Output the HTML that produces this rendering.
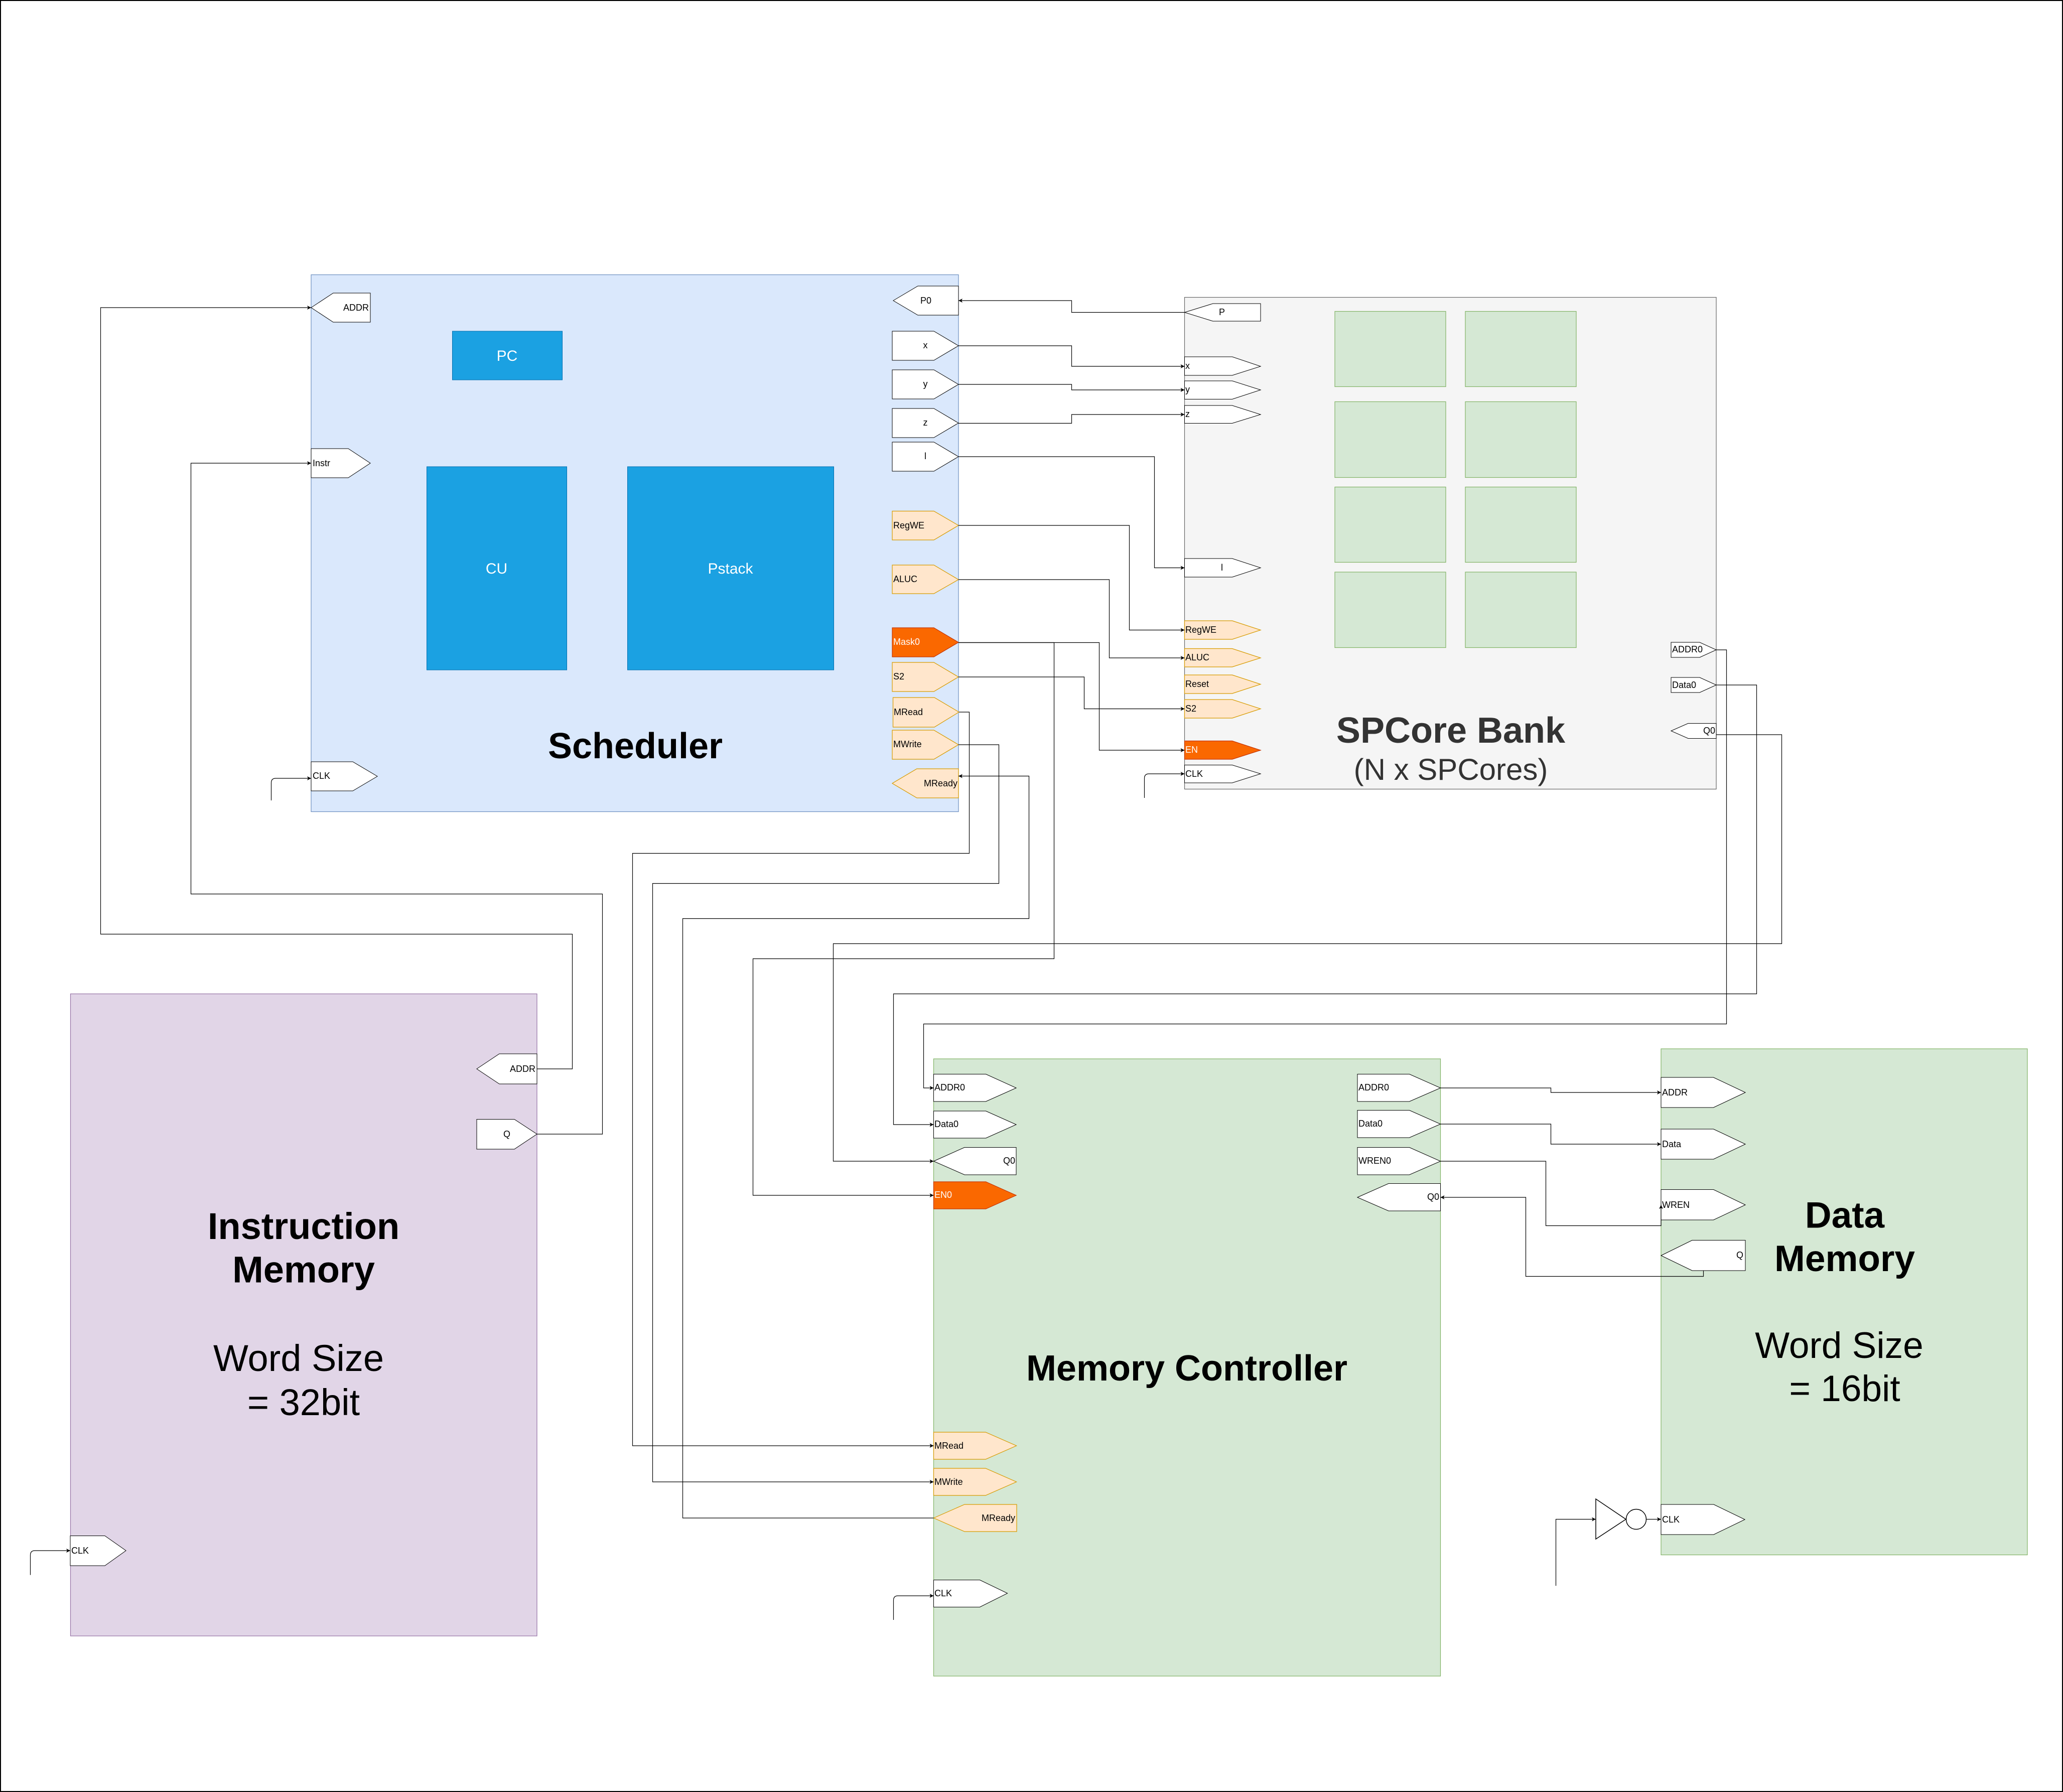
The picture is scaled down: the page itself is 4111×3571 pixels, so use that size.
<!DOCTYPE html>
<html><head><meta charset="utf-8"><title>Diagram</title>
<style>
html,body{margin:0;padding:0;background:#fff}
svg{display:block}
text{font-family:"Liberation Sans",Arial,sans-serif;fill:#000}
.p{font-size:18px}
.w{fill:#fff;stroke:#000;stroke-width:1}
.o{fill:#ffe6cc;stroke:#d79b00;stroke-width:1.2}
.f{fill:#fa6800;stroke:#c73500;stroke-width:1.2}
.c{fill:#d5e8d4;stroke:#82b366;stroke-width:1.2}
.b{fill:#1ba1e2;stroke:#006eaf;stroke-width:1}
.t{font-size:72px;font-weight:bold;text-anchor:middle}
.s{font-size:72px;text-anchor:middle}
.e{text-anchor:end}
.m{text-anchor:middle}
.l{fill:none;stroke:#000;stroke-width:1.2}
</style></head><body>
<svg xmlns="http://www.w3.org/2000/svg" width="4111" height="3571" viewBox="0 0 4111 3571">
<defs><marker id="a" markerUnits="userSpaceOnUse" markerWidth="10" markerHeight="10" refX="8" refY="5" orient="auto"><path d="M0,1 L8,5 L0,9 L2,5 Z" fill="#000"/></marker></defs>
<rect width="4111" height="3571" fill="#fff"/>
<rect x="1" y="1" width="4109" height="3569" fill="none" stroke="#000" stroke-width="2"/>

<!-- Scheduler -->
<rect x="620" y="547.5" width="1290" height="1070" fill="#dae8fc" stroke="#6c8ebf" stroke-width="1.2"/>
<rect class="b" x="901.5" y="660" width="219" height="97"/>
<rect class="b" x="850.5" y="930" width="279" height="405"/>
<rect class="b" x="1250.5" y="930" width="411" height="405"/>
<g font-size="30" text-anchor="middle"><text x="1010.5" y="719" style="fill:#fff">PC</text><text x="989.5" y="1143" style="fill:#fff">CU</text><text x="1455.5" y="1143" style="fill:#fff">Pstack</text></g>
<text class="t" x="1266" y="1511">Scheduler</text>
<polygon class="w" points="620,613 664,584 738,584 738,642 664,642"/><text class="p e" x="735" y="619">ADDR</text>
<polygon class="w" points="620,894 694,894 738,923 694,952 620,952"/><text class="p" x="623" y="929">Instr</text>
<polygon class="w" points="620,1518 703,1518 752,1547 703,1576 620,1576"/><text class="p" x="623" y="1552">CLK</text>
<polygon class="w" points="1780,599 1829,570 1910,570 1910,628 1829,628"/><text class="p m" x="1845" y="605">P0</text>
<polygon class="w" points="1778,660 1861,660 1910,689 1861,718 1778,718"/><text class="p m" x="1844" y="694">x</text>
<polygon class="w" points="1778,737 1861,737 1910,766 1861,795 1778,795"/><text class="p m" x="1844" y="771">y</text>
<polygon class="w" points="1778,814 1861,814 1910,843 1861,872 1778,872"/><text class="p m" x="1844" y="848">z</text>
<polygon class="w" points="1778,881 1861,881 1910,910 1861,939 1778,939"/><text class="p m" x="1844" y="915">l</text>
<polygon class="o" points="1778,1018.5 1861,1018.5 1910,1047 1861,1076 1778,1076"/><text class="p" x="1780" y="1053">RegWE</text>
<polygon class="o" points="1778,1126 1861,1126 1910,1155 1861,1183 1778,1183"/><text class="p" x="1780" y="1160">ALUC</text>
<polygon class="f" points="1778,1251 1861,1251 1910,1280 1861,1309 1778,1309"/><text class="p" x="1780" y="1285" style="fill:#fff">Mask0</text>
<polygon class="o" points="1778,1320 1861,1320 1910,1349 1861,1378 1778,1378"/><text class="p" x="1780" y="1354">S2</text>
<polygon class="o" points="1779.5,1390 1862,1390 1911,1419 1862,1449 1779.5,1449"/><text class="p" x="1781" y="1425">MRead</text>
<polygon class="o" points="1778,1455 1861,1455 1910,1484 1861,1513 1778,1513"/><text class="p" x="1780" y="1489">MWrite</text>
<polygon class="o" points="1778,1561 1827,1532 1910,1532 1910,1590 1827,1590"/><text class="p e" x="1908" y="1567">MReady</text>

<!-- SPCore -->
<rect x="2360.5" y="592.5" width="1059.5" height="980" fill="#f5f5f5" stroke="#666" stroke-width="1.2"/>
<rect class="c" x="2660" y="620.5" width="221" height="150"/><rect class="c" x="2920" y="620.5" width="221" height="150"/>
<rect class="c" x="2660" y="800.5" width="221" height="151"/><rect class="c" x="2920" y="800.5" width="221" height="151"/>
<rect class="c" x="2660" y="970.5" width="221" height="150"/><rect class="c" x="2920" y="970.5" width="221" height="150"/>
<rect class="c" x="2660" y="1140" width="221" height="150.5"/><rect class="c" x="2920" y="1140" width="221" height="150.5"/>
<text class="t" x="2891" y="1480" style="fill:#333">SPCore Bank</text>
<text x="2891" y="1554" font-size="60" text-anchor="middle" style="fill:#333">(N x SPCores)</text>
<polygon class="w" points="2360.5,622.5 2417,605 2512,605 2512,640 2417,640"/><text class="p m" x="2435" y="628">P</text>
<polygon class="w" points="2360.5,711 2455.5,711 2512,730 2455.5,748 2360.5,748"/><text class="p" x="2362" y="735">x</text>
<polygon class="w" points="2360.5,759 2455.5,759 2512,777 2455.5,795.5 2360.5,795.5"/><text class="p" x="2362" y="782">y</text>
<polygon class="w" points="2360.5,808 2455.5,808 2512,826 2455.5,843.5 2360.5,843.5"/><text class="p" x="2362" y="831">z</text>
<polygon class="w" points="2360.5,1113 2455.5,1113 2512,1131.5 2455.5,1150 2360.5,1150"/><text class="p m" x="2435" y="1137">l</text>
<polygon class="o" points="2360.5,1237 2455.5,1237 2512,1255.5 2455.5,1274 2360.5,1274"/><text class="p" x="2362" y="1261">RegWE</text>
<polygon class="o" points="2360.5,1292.5 2455.5,1292.5 2512,1311 2455.5,1329 2360.5,1329"/><text class="p" x="2362" y="1316">ALUC</text>
<polygon class="o" points="2360.5,1345 2455.5,1345 2512,1363.5 2455.5,1382 2360.5,1382"/><text class="p" x="2362" y="1369">Reset</text>
<polygon class="o" points="2360.5,1394 2455.5,1394 2512,1412.5 2455.5,1431 2360.5,1431"/><text class="p" x="2362" y="1418">S2</text>
<polygon class="f" points="2360.5,1476.5 2455.5,1476.5 2512,1495 2455.5,1513 2360.5,1513"/><text class="p" x="2362" y="1500" style="fill:#fff">EN</text>
<polygon class="w" points="2360.5,1524.5 2455.5,1524.5 2512,1542 2455.5,1560 2360.5,1560"/><text class="p" x="2362" y="1548">CLK</text>
<polygon class="w" points="3330,1280 3387,1280 3420,1295 3387,1310 3330,1310"/><text class="p" x="3332" y="1300">ADDR0</text>
<polygon class="w" points="3330,1350 3387,1350 3420,1365 3387,1380 3330,1380"/><text class="p" x="3332" y="1371">Data0</text>
<polygon class="w" points="3330,1456.5 3364,1441.5 3420,1441.5 3420,1471.5 3364,1471.5"/><text class="p e" x="3418" y="1462">Q0</text>

<!-- Instruction Memory -->
<rect x="140.5" y="1980.5" width="929.5" height="1279.5" fill="#e1d5e7" stroke="#9673a6" stroke-width="1.2"/>
<text class="t" x="605" y="2469" style="font-size:74px">Instruction</text>
<text class="t" x="605" y="2555.5" style="font-size:74px">Memory</text>
<text class="s" x="595" y="2732" style="font-size:74px">Word Size</text>
<text class="s" x="605" y="2820" style="font-size:74px">= 32bit</text>
<polygon class="w" points="950,2130 995,2100 1070,2100 1070,2160 995,2160"/><text class="p e" x="1067" y="2136">ADDR</text>
<polygon class="w" points="950,2230.5 1025,2230.5 1070,2260 1025,2290 950,2290"/><text class="p m" x="1010" y="2266">Q</text>
<polygon class="w" points="140,3060.5 209,3060.5 251,3090 209,3120 140,3120"/><text class="p" x="142" y="3096">CLK</text>

<!-- Memory Controller -->
<rect x="1860.5" y="2110" width="1010" height="1230" fill="#d5e8d4" stroke="#82b366" stroke-width="1.2"/>
<text class="t" x="2365" y="2751">Memory Controller</text>
<polygon class="w" points="1860.5,2140.5 1964.5,2140.5 2025,2168 1964.5,2195 1860.5,2195"/><text class="p" x="1862" y="2173">ADDR0</text>
<polygon class="w" points="1860.5,2214 1964.5,2214 2025,2241 1964.5,2268 1860.5,2268"/><text class="p" x="1862" y="2246">Data0</text>
<polygon class="w" points="1860.5,2314 1922,2286.5 2025,2286.5 2025,2341 1922,2341"/><text class="p e" x="2023" y="2319">Q0</text>
<polygon class="f" points="1860.5,2355 1964.5,2355 2025,2382 1964.5,2409 1860.5,2409"/><text class="p" x="1862" y="2387" style="fill:#fff">EN0</text>
<polygon class="o" points="1860.5,2854 1964,2854 2025.5,2881 1964,2908 1860.5,2908"/><text class="p" x="1862" y="2887">MRead</text>
<polygon class="o" points="1860.5,2926 1964,2926 2025.5,2953 1964,2980 1860.5,2980"/><text class="p" x="1862" y="2959">MWrite</text>
<polygon class="o" points="1860.5,3025 1922,2998 2026,2998 2026,3052 1922,3052"/><text class="p e" x="2023" y="3031">MReady</text>
<polygon class="w" points="1860.5,3148.5 1952.5,3148.5 2007.5,3175 1952.5,3202.5 1860.5,3202.5"/><text class="p" x="1862" y="3181">CLK</text>
<polygon class="w" points="2705,2140.5 2808.5,2140.5 2870.5,2168 2808.5,2195 2705,2195"/><text class="p" x="2707" y="2173">ADDR0</text>
<polygon class="w" points="2705,2212.5 2808.5,2212.5 2870.5,2240 2808.5,2267 2705,2267"/><text class="p" x="2707" y="2245">Data0</text>
<polygon class="w" points="2705,2286.5 2808.5,2286.5 2870.5,2314 2808.5,2341 2705,2341"/><text class="p" x="2707" y="2319">WREN0</text>
<polygon class="w" points="2705,2386 2767,2358.5 2870.5,2358.5 2870.5,2413 2767,2413"/><text class="p e" x="2868" y="2391">Q0</text>

<!-- Data Memory -->
<rect x="3310" y="2090" width="730" height="1008.5" fill="#d5e8d4" stroke="#82b366" stroke-width="1.2"/>
<text class="t" x="3676" y="2446.5" style="font-size:73px">Data</text>
<text class="t" x="3676" y="2533" style="font-size:73px">Memory</text>
<text class="s" x="3665" y="2706" style="font-size:73px">Word Size</text>
<text class="s" x="3676" y="2792" style="font-size:73px">= 16bit</text>
<polygon class="w" points="3310,2147 3414.5,2147 3478,2177 3414.5,2207 3310,2207"/><text class="p" x="3312" y="2183">ADDR</text>
<polygon class="w" points="3310,2250 3414.5,2250 3478,2280 3414.5,2310 3310,2310"/><text class="p" x="3312" y="2286">Data</text>
<polygon class="w" points="3310,2370.5 3414.5,2370.5 3478,2401 3414.5,2431 3310,2431"/><text class="p" x="3312" y="2407">WREN</text>
<polygon class="w" points="3310,2502 3372,2471.5 3478,2471.5 3478,2532 3372,2532"/><text class="p e" x="3474" y="2507">Q</text>
<polygon class="w" points="3310,2998 3415,2998 3477,3028 3415,3058 3310,3058"/><text class="p" x="3312" y="3034">CLK</text>
<polygon points="3180,2987 3180,3067 3240,3027.5" fill="#fff" stroke="#000" stroke-width="1.5"/>
<circle cx="3260.5" cy="3027.5" r="20" fill="#fff" stroke="#000" stroke-width="1.5"/>

<!-- wires -->
<g class="l">
<path class="l" marker-end="url(#a)" d="M2360.5,622.5H2135.5V599H1910"/>
<path class="l" marker-end="url(#a)" d="M1910,689H2135.5V730H2360.5"/>
<path class="l" marker-end="url(#a)" d="M1910,766H2135.5V777H2360.5"/>
<path class="l" marker-end="url(#a)" d="M1910,843.5H2135.5V826H2360.5"/>
<path class="l" marker-end="url(#a)" d="M1910,910H2300.5V1131.5H2360.5"/>
<path class="l" marker-end="url(#a)" d="M1910,1047H2250.5V1255.5H2360.5"/>
<path class="l" marker-end="url(#a)" d="M1910,1155H2210.5V1311H2360.5"/>
<path class="l" marker-end="url(#a)" d="M1910,1280.5H2190.5V1495H2360.5"/>
<path class="l" marker-end="url(#a)" d="M1910,1349H2160.5V1412.5H2360.5"/>
<path class="l" marker-end="url(#a)" d="M1910,1280.5H2100.5V1910.5H1500.5V2382H1860.5"/>
<path class="l" marker-end="url(#a)" d="M1911,1419H1931.5V1700.5H1260.5V2881H1860.5"/>
<path class="l" marker-end="url(#a)" d="M1910,1484H1990.5V1760.5H1300.5V2953H1860.5"/>
<path class="l" marker-end="url(#a)" d="M1860.5,3025H1360.5V1830.5H2050.5V1546.5H1910"/>
<path class="l" marker-end="url(#a)" d="M3420,1295H3440.5V2040.5H1840.5V2168H1860.5"/>
<path class="l" marker-end="url(#a)" d="M3420,1365H3500.5V1980.5H1780.5V2241H1860.5"/>
<path class="l" marker-end="url(#a)" d="M3420,1464H3550.5V1880.5H1660.5V2314H1860.5"/>
<path class="l" marker-end="url(#a)" d="M1070,2130H1140.5V1861.5H200.5V613H620"/>
<path class="l" marker-end="url(#a)" d="M1070,2260H1200.5V1781.5H380.5V923H620"/>
<path class="l" marker-end="url(#a)" d="M2870.5,2168H3090.5V2177H3310"/>
<path class="l" marker-end="url(#a)" d="M2870.5,2240H3090.5V2280H3310"/>
<path class="l" marker-end="url(#a)" d="M2870.5,2314H3080.5V2442.5H3310V2401"/>
<path class="l" marker-end="url(#a)" d="M3394.5,2532V2543.5H3040.5V2386H2870.5"/>
<path class="l" marker-end="url(#a)" d="M540.5,1595V1560Q540.5,1551 549.5,1551H620"/>
<path class="l" marker-end="url(#a)" d="M2280.5,1590V1551Q2280.5,1542 2289.5,1542H2360.5"/>
<path class="l" marker-end="url(#a)" d="M1780.5,3228V3189Q1780.5,3180 1789.5,3180H1860.5"/>
<path class="l" marker-end="url(#a)" d="M60.5,3138.5V3099Q60.5,3090 69.5,3090H140"/>
<path class="l" marker-end="url(#a)" d="M3100.5,3160V3027.5H3180"/>
<path class="l" marker-end="url(#a)" d="M3281,3027.5H3310"/>
</g>
</svg>
</body></html>
